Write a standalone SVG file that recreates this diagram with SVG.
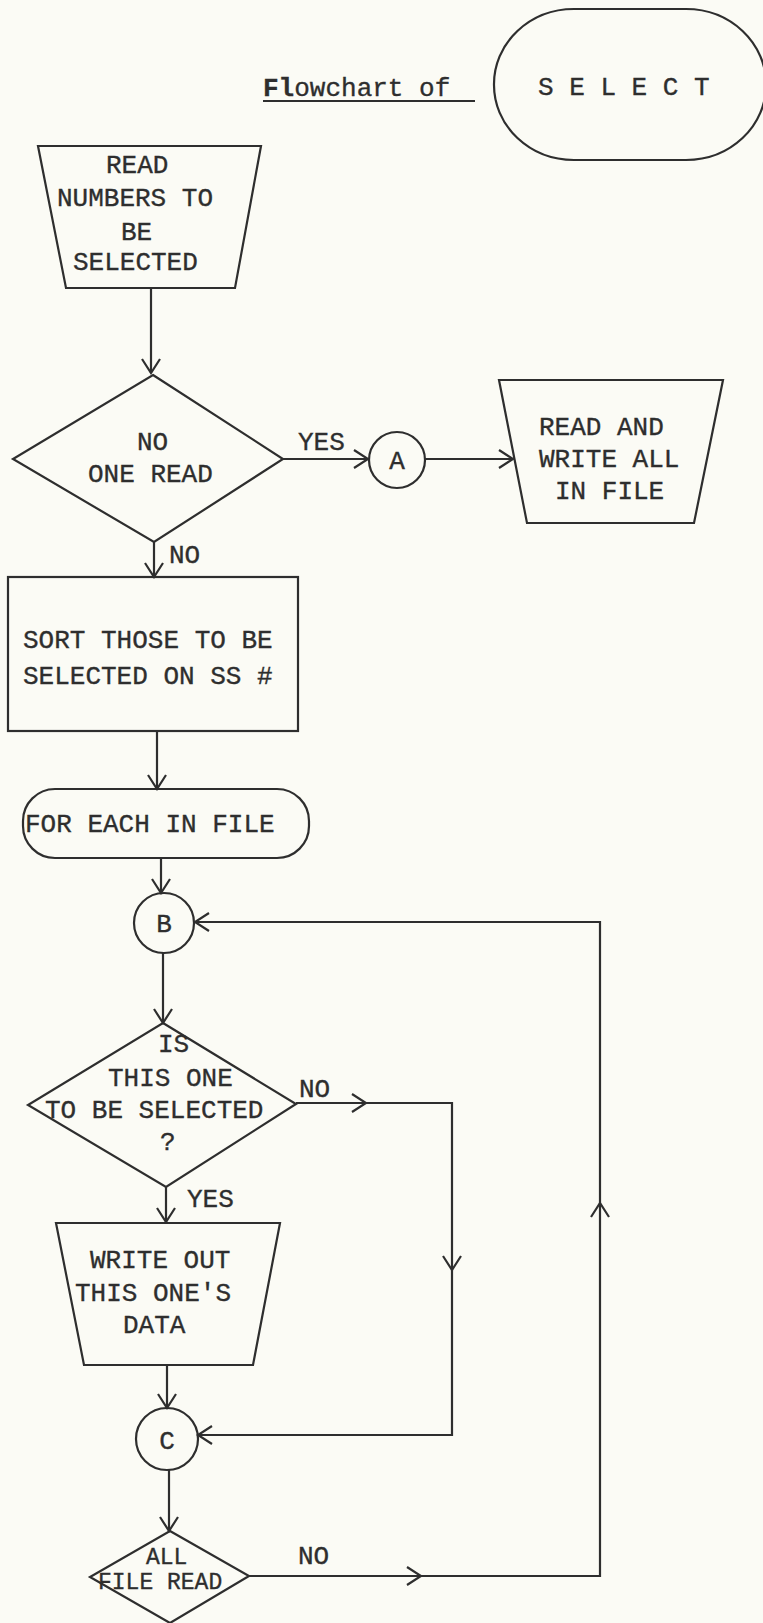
<svg xmlns="http://www.w3.org/2000/svg" width="763" height="1623" viewBox="0 0 763 1623">
<defs>
<style>
.s{fill:none;stroke:#2e2e2e;stroke-width:2.2;stroke-linejoin:miter}
.c{fill:none;stroke:#2e2e2e;stroke-width:2.2}
text{font-family:"Liberation Mono","Courier New",monospace;font-size:26px;fill:#2e2e2e;stroke:#2e2e2e;stroke-width:0.35}
.m{text-anchor:middle}
.sm{font-size:23px}
</style>
<marker id="ah" viewBox="-16 -11 18 22" refX="0" refY="0" markerWidth="18" markerHeight="22" markerUnits="userSpaceOnUse" orient="auto">
<path d="M-14,-9 L0,0 L-14,9" fill="none" stroke="#2e2e2e" stroke-width="2.2"/>
</marker>
</defs>
<rect x="0" y="0" width="763" height="1623" fill="#fbfbf5"/>

<g id="title">
<text x="263" y="96"><tspan font-weight="bold">Fl</tspan>owchart of</text>
<line x1="263" y1="101" x2="475" y2="101" stroke="#2e2e2e" stroke-width="2"/>
</g>

<g id="select">
<rect class="s" x="494" y="9" width="272" height="151" rx="80" ry="75"/>
<text x="538" y="95">S E L E C T</text>
</g>

<g id="read-numbers">
<path class="s" d="M38,146 L261,146 L235,288 L66,288 Z"/>
<text x="106" y="173">READ</text>
<text x="57" y="206">NUMBERS TO</text>
<text x="121" y="240">BE</text>
<text x="73" y="270">SELECTED</text>
</g>

<g id="no-one-read">
<path class="s" d="M153,375 L283,459 L154,542 L13,459 Z"/>
<text x="137" y="450">NO</text>
<text x="88" y="482">ONE READ</text>
</g>

<g id="conn-a">
<circle class="s" cx="397" cy="460" r="28"/>
<text class="m" x="397" y="469">A</text>
</g>

<g id="read-write-all">
<path class="s" d="M499,380 L723,380 L694,523 L527,523 Z"/>
<text x="539" y="435">READ AND</text>
<text x="539" y="467">WRITE ALL</text>
<text x="555" y="499">IN FILE</text>
</g>

<g id="sort">
<rect class="s" x="8" y="577" width="290" height="154"/>
<text x="23" y="648">SORT THOSE TO BE</text>
<text x="23" y="684">SELECTED ON SS #</text>
</g>

<g id="for-each">
<rect class="s" x="23" y="789" width="286" height="69" rx="32" ry="32"/>
<text x="25" y="832">FOR EACH IN FILE</text>
</g>

<g id="conn-b">
<circle class="s" cx="164" cy="923" r="30"/>
<text class="m" x="164" y="932">B</text>
</g>

<g id="is-selected">
<path class="s" d="M163,1023 L296,1104 L166,1187 L28,1105 Z"/>
<text x="158" y="1052">IS</text>
<text x="108" y="1086">THIS ONE</text>
<text x="45" y="1118">TO BE SELECTED</text>
<text x="160" y="1150">?</text>
</g>

<g id="write-out">
<path class="s" d="M56,1223 L280,1223 L253,1365 L84,1365 Z"/>
<text x="90" y="1268">WRITE OUT</text>
<text x="75" y="1301">THIS ONE'S</text>
<text x="123" y="1333">DATA</text>
</g>

<g id="conn-c">
<circle class="s" cx="167" cy="1439" r="31"/>
<text class="m" x="167" y="1449">C</text>
</g>

<g id="all-file-read">
<path class="s" d="M170,1531 L249,1576 L170,1623 L90,1577 Z"/>
<text class="sm" x="146" y="1564">ALL</text>
<text class="sm" x="98" y="1589">FILE READ</text>
</g>

<g id="connectors">
<path class="c" d="M151,288 V373" marker-end="url(#ah)"/>
<path class="c" d="M283,459 H368" marker-end="url(#ah)"/>
<path class="c" d="M425,459 H513" marker-end="url(#ah)"/>
<path class="c" d="M154,542 V577" marker-end="url(#ah)"/>
<path class="c" d="M157,731 V789" marker-end="url(#ah)"/>
<path class="c" d="M161,858 V893" marker-end="url(#ah)"/>
<path class="c" d="M163,953 V1023" marker-end="url(#ah)"/>
<path class="c" d="M296,1103 H366" marker-end="url(#ah)"/>
<path class="c" d="M366,1103 H452 V1270" marker-end="url(#ah)"/>
<path class="c" d="M452,1270 V1435 H198" marker-end="url(#ah)"/>
<path class="c" d="M166,1187 V1222" marker-end="url(#ah)"/>
<path class="c" d="M167,1365 V1408" marker-end="url(#ah)"/>
<path class="c" d="M169,1470 V1531" marker-end="url(#ah)"/>
<path class="c" d="M249,1576 H421" marker-end="url(#ah)"/>
<path class="c" d="M421,1576 H600 V1203" marker-end="url(#ah)"/>
<path class="c" d="M600,1203 V922 H195" marker-end="url(#ah)"/>
<text x="298" y="450">YES</text>
<text x="169" y="563">NO</text>
<text x="299" y="1097">NO</text>
<text x="187" y="1207">YES</text>
<text x="298" y="1564">NO</text>
</g>
</svg>
